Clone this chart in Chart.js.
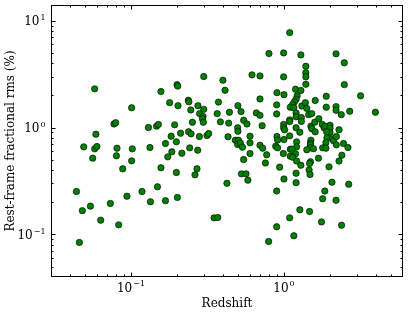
<!DOCTYPE html>
<html>
<head>
<meta charset="utf-8">
<script src="https://cdn.jsdelivr.net/npm/chart.js@4/dist/chart.umd.min.js"></script>
<style>
  html, body { margin: 0; padding: 0; background: #fff; }
  #chart { display: block; }
</style>
</head>
<body>
<canvas id="chart" width="409" height="316"></canvas>
<script>
// values
const redshift = [
  0.0579, 0.101, 0.157, 0.0774, 0.0794, 0.0590, 0.130, 0.147, 0.151, 0.168,
  0.0491, 0.0579, 0.0599, 0.0810, 0.102, 0.133, 0.0803, 0.0562, 0.174, 0.101,
  0.0883, 0.157, 0.0440, 0.0481, 0.0543, 0.0634, 0.0733, 0.0831, 0.0941, 0.118,
  0.134, 0.149, 0.168, 0.0460,
  0.200, 0.202, 0.179, 0.203, 0.237, 0.239, 0.246, 0.274, 0.299, 0.193,
  0.183, 0.211, 0.198, 0.238, 0.247, 0.252, 0.280, 0.185, 0.215, 0.242,
  0.273, 0.198, 0.262, 0.270, 0.201, 0.299, 0.281, 0.296, 0.293, 0.297,
  0.314, 0.322,
  0.373, 0.366, 0.440, 0.500, 0.524, 0.697, 0.660, 0.697, 0.896, 0.896,
  0.384, 0.435, 0.545, 0.573, 0.498, 0.500, 0.720, 0.431, 0.600, 0.481,
  0.504, 0.498, 0.519, 0.535, 0.600, 0.697, 0.726, 0.600, 0.771, 0.545,
  0.756, 0.527, 0.565, 0.581, 0.424, 0.937, 1.00, 0.896, 0.798, 0.995,
  0.618, 0.697, 0.399, 0.412, 0.995, 0.900, 1.00, 0.349, 0.369, 0.896,
  0.794, 0.900, 0.909, 0.883, 0.909, 0.995, 0.995, 1.01, 1.00, 0.991,
  1.09, 1.29, 2.19, 2.48, 1.39, 1.39, 1.39, 1.39, 2.48, 1.19,
  1.29, 3.17, 1.89, 1.22, 1.20, 1.17, 1.14, 1.10, 1.16, 1.31,
  1.38, 1.41, 1.60, 1.89, 2.19, 2.19, 2.69, 2.37, 3.96, 1.20,
  1.20, 1.30, 1.30, 1.45, 1.52, 1.09, 1.09, 1.20, 1.27, 1.09,
  1.50, 1.52, 1.60, 1.59, 1.69, 1.78, 1.83, 1.85, 2.00, 2.00,
  2.00, 1.90, 2.29, 1.91, 1.88, 2.07, 2.11, 2.20, 2.20, 2.45,
  2.62, 1.50, 1.49, 1.49, 1.49, 1.56, 1.41, 1.21, 1.21, 1.10,
  1.13, 1.19, 1.10, 1.14, 1.79, 1.88, 2.39, 2.29, 1.68, 1.21,
  1.29, 1.49, 1.47, 1.46, 1.48, 1.97, 1.20, 1.20, 2.06, 2.65,
  1.85, 1.79, 2.19, 1.09, 1.27, 1.47, 1.76, 2.38, 1.16
];
const rmsPct = [
  2.30, 1.53, 2.17, 1.08, 1.11, 0.866, 1.00, 1.03, 1.07, 0.709,
  0.660, 0.632, 0.664, 0.641, 0.632, 0.650, 0.544, 0.517, 0.532, 0.488,
  0.411, 0.420, 0.252, 0.167, 0.184, 0.136, 0.195, 0.123, 0.228, 0.252,
  0.202, 0.279, 0.207, 0.0842,
  2.52, 2.44, 1.71, 1.60, 1.80, 1.74, 1.46, 1.60, 3.00, 1.06,
  0.829, 0.885, 0.735, 0.912, 0.873, 1.12, 0.824, 0.593, 0.575, 0.646,
  0.614, 0.380, 0.361, 0.411, 0.222, 1.48, 1.35, 1.27, 1.21, 1.12,
  0.842, 0.879,
  1.73, 1.35, 1.39, 1.60, 1.41, 1.85, 1.37, 1.30, 1.63, 1.34,
  1.13, 1.10, 1.17, 1.08, 0.994, 0.923, 1.04, 0.819, 0.829, 0.761,
  0.761, 0.694, 0.713, 0.655, 0.719, 0.683, 0.641, 0.571, 0.556, 0.502,
  0.466, 0.369, 0.369, 0.322, 0.301, 0.426, 0.330, 0.255, 4.92, 4.99,
  3.11, 3.04, 2.77, 2.23, 2.98, 2.12, 2.03, 0.143, 0.144, 0.118,
  0.0860, 0.824, 0.764, 0.669, 0.646, 1.07, 0.994, 0.952, 0.772, 0.571,
  7.73, 4.78, 4.89, 4.03, 3.74, 3.25, 2.98, 2.54, 2.52, 2.28,
  2.22, 1.98, 1.96, 1.98, 1.84, 1.74, 1.64, 1.55, 1.53, 1.59,
  1.71, 1.51, 1.79, 1.55, 1.57, 1.45, 1.42, 1.32, 1.39, 1.37,
  1.26, 1.24, 1.14, 1.32, 1.35, 1.18, 1.14, 0.994, 0.904, 0.836,
  1.03, 0.974, 0.912, 1.12, 1.21, 1.07, 0.994, 1.03, 1.05, 0.985,
  0.898, 0.912, 0.952, 0.801, 0.724, 0.784, 0.751, 0.824, 0.689, 0.709,
  0.650, 0.761, 0.716, 0.689, 0.648, 0.634, 0.619, 0.735, 0.660, 0.627,
  0.627, 0.568, 0.539, 0.528, 0.646, 0.641, 0.551, 0.486, 0.517, 0.486,
  0.444, 0.478, 0.461, 0.401, 0.364, 0.429, 0.374, 0.305, 0.308, 0.295,
  0.255, 0.216, 0.209, 0.143, 0.170, 0.164, 0.131, 0.122, 0.0973
];

// tick labels as base + exponent (drawn as 10^e)
const xTicks = [0.1, 1];
const xTickExp = ['\u22121', '0'];
const yTicks = [0.1, 1, 10];
const yTickExp = ['\u22121', '0', '1'];

const X_MIN = 0.03, X_MAX = 6;
const Y_MIN = 0.04, Y_MAX = 14;

const serif = "'DejaVu Serif', 'Liberation Serif', serif";

function minorTicks(lo, hi) {
  const out = [];
  for (let e = -3; e <= 2; e++) {
    for (let m = 2; m <= 9; m++) {
      const v = m * Math.pow(10, e);
      if (v > lo && v < hi) out.push(v);
    }
  }
  return out;
}

function powLabel(ctx, exp, x, y, align) {
  ctx.font = '12px ' + serif;
  const wb = ctx.measureText('10').width;
  ctx.font = '8px ' + serif;
  const we = ctx.measureText(exp).width;
  const total = wb + 1 + we;
  const left = align === 'center' ? x - total / 2 : x - total;
  ctx.font = '12px ' + serif;
  ctx.fillText('10', left, y);
  ctx.font = '8px ' + serif;
  ctx.fillText(exp, left + wb + 1, y - 5.3);
}

// matplotlib-style box with inward ticks on all four sides
const frameTicks = {
  id: 'frameTicks',
  afterDatasetsDraw(chart) {
    const { ctx, chartArea: a, scales: { x, y } } = chart;
    const L = Math.round(a.left) + 0.5, R = Math.round(a.right) - 0.5;
    const T = Math.round(a.top) + 0.5, B = Math.round(a.bottom) - 0.5;
    ctx.save();
    ctx.strokeStyle = '#000';
    ctx.lineWidth = 1;
    ctx.beginPath();
    const tick = (v, len, horiz) => {
      if (horiz) {
        const px = Math.round(x.getPixelForValue(v)) + 0.5;
        ctx.moveTo(px, B); ctx.lineTo(px, B - len);
        ctx.moveTo(px, T); ctx.lineTo(px, T + len);
      } else {
        const py = Math.round(y.getPixelForValue(v)) + 0.5;
        ctx.moveTo(L, py); ctx.lineTo(L + len, py);
        ctx.moveTo(R, py); ctx.lineTo(R - len, py);
      }
    };
    xTicks.forEach(v => tick(v, 4, true));
    minorTicks(X_MIN, X_MAX).forEach(v => tick(v, 2, true));
    yTicks.forEach(v => tick(v, 4, false));
    minorTicks(Y_MIN, Y_MAX).forEach(v => tick(v, 2, false));
    ctx.stroke();
    ctx.strokeRect(L, T, R - L, B - T);

    ctx.fillStyle = '#000';
    ctx.textBaseline = 'alphabetic';
    ctx.textAlign = 'left';
    xTicks.forEach((v, i) => powLabel(ctx, xTickExp[i], x.getPixelForValue(v), a.bottom + 14.5, 'center'));
    yTicks.forEach((v, i) => powLabel(ctx, yTickExp[i], a.left - 5.5, y.getPixelForValue(v) + 4.4, 'right'));
    ctx.restore();
  }
};

const points = redshift.map((z, i) => ({ x: z, y: rmsPct[i] }));

new Chart(document.getElementById('chart'), {
  type: 'scatter',
  data: {
    datasets: [{
      data: points,
      backgroundColor: '#008000',
      borderColor: '#000',
      borderWidth: 0.6,
      pointRadius: 3.2,
      pointHoverRadius: 3.2
    }]
  },
  options: {
    responsive: false,
    animation: false,
    devicePixelRatio: 1,
    layout: { padding: { top: 5, right: 6, left: 0, bottom: 0 } },
    plugins: { legend: { display: false }, tooltip: { enabled: false } },
    scales: {
      x: {
        type: 'logarithmic',
        position: 'bottom',
        min: X_MIN, max: X_MAX,
        grid: { display: false, drawTicks: false },
        border: { display: false },
        afterBuildTicks: s => { s.ticks = xTicks.map(v => ({ value: v })); },
        afterFit: s => { s.height = 39; },
        ticks: { display: false },
        title: {
          display: true,
          text: 'Redshift',
          color: '#000',
          font: { family: serif, size: 12 },
          padding: { top: 0, bottom: 5 }
        }
      },
      y: {
        type: 'logarithmic',
        position: 'left',
        min: Y_MIN, max: Y_MAX,
        grid: { display: false, drawTicks: false },
        border: { display: false },
        afterBuildTicks: s => { s.ticks = yTicks.map(v => ({ value: v })); },
        afterFit: s => { s.width = 51; },
        ticks: { display: false },
        title: {
          display: true,
          text: 'Rest-frame fractional rms (%)',
          color: '#000',
          font: { family: serif, size: 12 },
          padding: { top: 4, bottom: 0 }
        }
      }
    }
  },
  plugins: [frameTicks]
});
</script>
</body>
</html>
